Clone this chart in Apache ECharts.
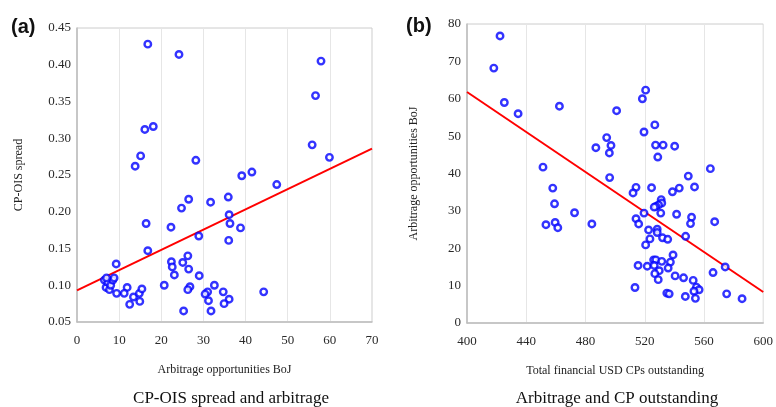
<!DOCTYPE html>
<html>
<head>
<meta charset="utf-8">
<script src="https://cdn.jsdelivr.net/npm/echarts@6/dist/echarts.min.js"></script>
<style>
  html, body { margin: 0; padding: 0; background: #fff; }
  #chart { width: 776px; height: 407px; }
</style>
</head>
<body>
<div id="chart"></div>
<script>
// panel (a): arbitrage opportunities BoJ vs CP-OIS spread
const arbitrageA = [16.8, 24.2, 16.1, 18.1, 15.1, 13.8, 28.2, 26.5, 57.9, 56.6, 55.8, 59.9, 39.1, 41.5, 47.4, 31.7,
  35.9, 24.8, 16.4, 22.3, 16.8, 28.9, 9.3, 22.4, 22.6, 23.1, 25.1, 26.3, 26.5, 29.0, 20.7, 26.8, 26.3, 25.3,
  6.5, 6.9, 7.3, 7.7, 8.0, 8.5, 8.8, 7.0, 9.4, 11.9, 11.2, 12.5, 13.4, 14.8, 15.4, 14.9,
  36.1, 36.3, 38.8, 36.0, 32.6, 31.0, 30.4, 31.2, 34.7, 36.1, 34.9, 31.8, 44.3]
const spreadA = [0.428, 0.414, 0.312, 0.316, 0.276, 0.262, 0.270, 0.217, 0.405, 0.358, 0.291, 0.274, 0.249, 0.254, 0.237, 0.213,
  0.220, 0.205, 0.184, 0.179, 0.147, 0.167, 0.129, 0.132, 0.125, 0.114, 0.131, 0.140, 0.122, 0.113, 0.100, 0.098, 0.094, 0.065,
  0.107, 0.097, 0.104, 0.094, 0.100, 0.107, 0.110, 0.110, 0.089, 0.097, 0.089, 0.074, 0.084, 0.089, 0.095, 0.078,
  0.196, 0.184, 0.178, 0.161, 0.100, 0.091, 0.088, 0.079, 0.091, 0.081, 0.075, 0.065, 0.091]
const fitA = [[0, 0.093], [70, 0.286]]

// panel (b): total financial USD CPs outstanding vs arbitrage opportunities BoJ
const cpB = [422.3, 418.1, 425.2, 434.5, 462.4, 451.3, 457.9, 520.6, 518.4, 501.0, 526.8, 519.5, 494.3, 487.0, 497.2, 496.1,
  527.3, 532.4, 540.2, 528.8, 564.3, 496.3, 549.4, 553.6, 543.3, 538.7, 524.6, 514.1, 512.1, 531.1, 531.5, 529.3,
  527.5, 526.4, 530.8, 519.5, 541.5, 484.3, 514.1, 515.9, 551.6, 550.9, 567.2, 522.6, 528.4, 528.4, 523.5, 532.0,
  535.5, 547.6, 520.6, 539.1, 526.0, 527.5, 531.5, 537.3, 515.5, 521.7, 526.4, 535.8, 529.8, 526.8, 574.3, 566.1,
  540.5, 546.2, 529.1, 552.7, 513.4, 554.9, 556.7, 553.2, 534.9, 536.5, 547.4, 554.2, 575.3, 585.7,
  459.1, 472.6, 453.3, 459.5, 461.3]
const arbitrageB = [76.8, 68.2, 59.0, 56.0, 58.0, 41.7, 36.1, 62.3, 60.0, 56.8, 53.0, 51.1, 49.6, 46.9, 47.5, 45.5,
  47.6, 47.6, 47.3, 44.4, 41.3, 38.9, 39.3, 36.4, 36.1, 35.1, 36.2, 36.3, 34.8, 33.0, 32.1, 31.6,
  31.2, 31.0, 29.4, 29.4, 29.1, 26.5, 27.9, 26.5, 28.3, 26.6, 27.1, 24.9, 25.1, 24.2, 22.5, 22.8,
  22.4, 23.2, 20.9, 18.2, 16.9, 16.9, 16.5, 16.3, 15.4, 15.2, 15.4, 14.7, 14.0, 13.2, 15.0, 13.5,
  12.6, 12.1, 11.6, 11.4, 9.5, 9.6, 8.9, 8.5, 8.0, 7.8, 7.1, 6.6, 7.8, 6.5,
  31.9, 29.5, 26.3, 26.9, 25.5]
const fitB = [[400, 61.8], [600, 8.3]]

const serif = 'Liberation Serif'
const tickColor = '#2a2a2a'

function pairs (xs, ys) {
  return xs.map((x, i) => [x, ys[i]])
}

function xAxisOf (gridIndex, min, max, interval, name) {
  return {
    gridIndex: gridIndex,
    type: 'value',
    min: min,
    max: max,
    interval: interval,
    name: name,
    nameLocation: 'middle',
    nameGap: 42,
    nameTextStyle: { fontFamily: serif, fontSize: 12, color: '#222' },
    axisLine: { show: true, lineStyle: { color: '#bdbdbd', width: 1.5 } },
    axisTick: { show: false },
    axisLabel: { fontFamily: serif, fontSize: 13, color: tickColor, margin: 12 },
    splitLine: { show: true, lineStyle: { color: '#e6e6e6', width: 1 } }
  }
}

function yAxisOf (gridIndex, min, max, interval, name, gap, fmt) {
  return {
    gridIndex: gridIndex,
    type: 'value',
    min: min,
    max: max,
    interval: interval,
    name: name,
    nameLocation: 'middle',
    nameGap: gap,
    nameTextStyle: { fontFamily: serif, fontSize: 12, color: '#222' },
    axisLine: { show: true, lineStyle: { color: '#bdbdbd', width: 1.5 } },
    axisTick: { show: false },
    axisLabel: { fontFamily: serif, fontSize: 13, color: tickColor, margin: 6, formatter: fmt },
    splitLine: { show: false }
  }
}

const dotStyle = {
  color: '#ffffff',
  borderColor: '#0000ff',
  borderWidth: 2.4
}

const chart = echarts.init(document.getElementById('chart'), null, { renderer: 'canvas' })

chart.setOption({
  animation: false,
  backgroundColor: '#fff',
  title: [
    {
      text: 'CP-OIS spread and arbitrage',
      left: 226,
      top: 385,
      textAlign: 'center',
      textStyle: { fontFamily: serif, fontSize: 17, fontWeight: 'normal', color: '#111' }
    },
    {
      text: 'Arbitrage and CP outstanding',
      left: 612,
      top: 385,
      textAlign: 'center',
      textStyle: { fontFamily: serif, fontSize: 17, fontWeight: 'normal', color: '#111' }
    },
    {
      text: '(a)',
      left: 6,
      top: 12,
      textStyle: { fontFamily: 'Liberation Sans', fontSize: 20, fontWeight: 'bold', color: '#111' }
    },
    {
      text: '(b)',
      left: 401,
      top: 11,
      textStyle: { fontFamily: 'Liberation Sans', fontSize: 20, fontWeight: 'bold', color: '#111' }
    }
  ],
  grid: [
    { left: 77, right: 404, top: 28, bottom: 85, show: true, borderColor: '#cccccc', borderWidth: 1 },
    { left: 467, right: 10, top: 24, bottom: 84, show: true, borderColor: '#cccccc', borderWidth: 1 }
  ],
  xAxis: [
    xAxisOf(0, 0, 70, 10, 'Arbitrage opportunities BoJ'),
    xAxisOf(1, 400, 600, 40, 'Total financial USD CPs outstanding')
  ],
  yAxis: [
    yAxisOf(0, 0.05, 0.45, 0.05, 'CP-OIS spread', 52, v => v.toFixed(2)),
    yAxisOf(1, 0, 80, 10, 'Arbitrage opportunities BoJ', 47, v => v)
  ],
  series: [
    {
      type: 'scatter',
      xAxisIndex: 0,
      yAxisIndex: 0,
      symbol: 'circle',
      symbolSize: 6.5,
      itemStyle: dotStyle,
      data: pairs(arbitrageA, spreadA),
      z: 3
    },
    {
      type: 'line',
      xAxisIndex: 0,
      yAxisIndex: 0,
      showSymbol: false,
      lineStyle: { color: '#ff0000', width: 2 },
      data: fitA,
      z: 2
    },
    {
      type: 'scatter',
      xAxisIndex: 1,
      yAxisIndex: 1,
      symbol: 'circle',
      symbolSize: 6.5,
      itemStyle: dotStyle,
      data: pairs(cpB, arbitrageB),
      z: 3
    },
    {
      type: 'line',
      xAxisIndex: 1,
      yAxisIndex: 1,
      showSymbol: false,
      lineStyle: { color: '#ff0000', width: 2 },
      data: fitB,
      z: 2
    }
  ]
})
</script>
</body>
</html>
